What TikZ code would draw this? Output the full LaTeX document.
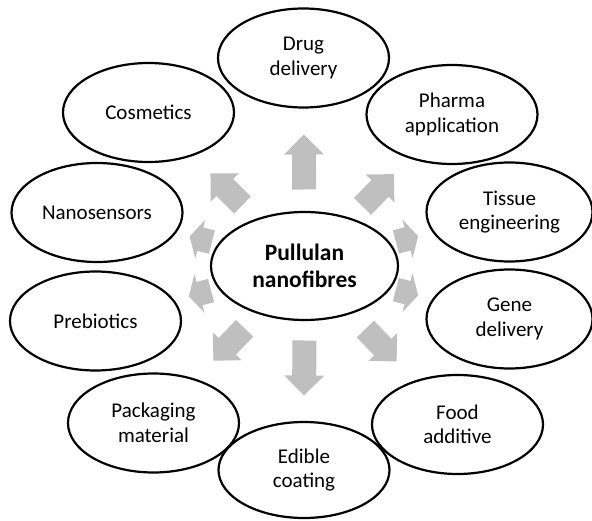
\documentclass[tikz,border=0pt]{standalone}
\usepackage{fontspec}
\setmainfont{Carlito}
\usetikzlibrary{shapes.geometric}

\definecolor{spokegrey}{RGB}{191,191,191}

\tikzset{
  topic/.style = {ellipse, draw, line width=2.2pt, minimum width=171pt, minimum height=99pt,
                  inner sep=0pt, align=center, font=\fontsize{21}{24.5}\selectfont},
  hub/.style   = {topic, minimum width=187pt, minimum height=108pt,
                  font=\fontsize{23.5}{27.5}\selectfont\bfseries},
  pics/spoke/.style 2 args = {code = {
    \fill[spokegrey] (-#1/2,-12) -- (#1/2-#2,-12) -- (#1/2-#2,-20) -- (#1/2,0)
      -- (#1/2-#2,20) -- (#1/2-#2,12) -- (-#1/2,12) -- cycle;
  }}
}

\begin{document}
\begin{tikzpicture}[x=1pt, y=1pt]
\useasboundingbox (0,0) rectangle (592,520);

\node[hub] (hub) at (304.5, 254) {Pullulan\\nanofibres};

\node[topic] (drug)        at (303.5, 462)   {Drug\\delivery};
\node[topic] (pharma)      at (452, 405.5)   {Pharma\\application};
\node[topic, minimum width=166pt] (tissue) at (509.5, 308) {Tissue\\engineering};
\node[topic, minimum width=166pt] (gene)   at (509.5, 201) {Gene\\delivery};
\node[topic] (food)        at (457.5, 95.5)  {Food\\additive};
\node[topic, minimum height=96pt] (edible) at (304, 50) {Edible\\coating};
\node[topic] (packaging)   at (153.5, 97)    {Packaging\\material};
\node[topic] (prebiotics)  at (95.5, 199)    {Prebiotics};
\node[topic] (nanosensors) at (97, 307.5)    {Nanosensors};
\node[topic] (cosmetics)   at (148.5, 407.5) {Cosmetics};

\path (hub.center) -- (drug.center)        pic[midway, sloped, allow upside down] {spoke={55}{20}};
\path (hub.center) -- (edible.center)      pic[midway, sloped, allow upside down] {spoke={55}{20}};
\path (hub.center) -- (pharma.center)      pic[midway, sloped, allow upside down] {spoke={45}{20}};
\path (hub.center) -- (food.center)        pic[midway, sloped, allow upside down] {spoke={45}{20}};
\path (hub.center) -- (packaging.center)   pic[midway, sloped, allow upside down] {spoke={45}{20}};
\path (hub.center) -- (cosmetics.center)   pic[midway, sloped, allow upside down] {spoke={45}{20}};
\path (hub.center) -- (tissue.center)      pic[midway, sloped, allow upside down] {spoke={23}{11}};
\path (hub.center) -- (gene.center)        pic[midway, sloped, allow upside down] {spoke={23}{11}};
\path (hub.center) -- (prebiotics.center)  pic[midway, sloped, allow upside down] {spoke={23}{11}};
\path (hub.center) -- (nanosensors.center) pic[midway, sloped, allow upside down] {spoke={23}{11}};
\end{tikzpicture}
\end{document}
